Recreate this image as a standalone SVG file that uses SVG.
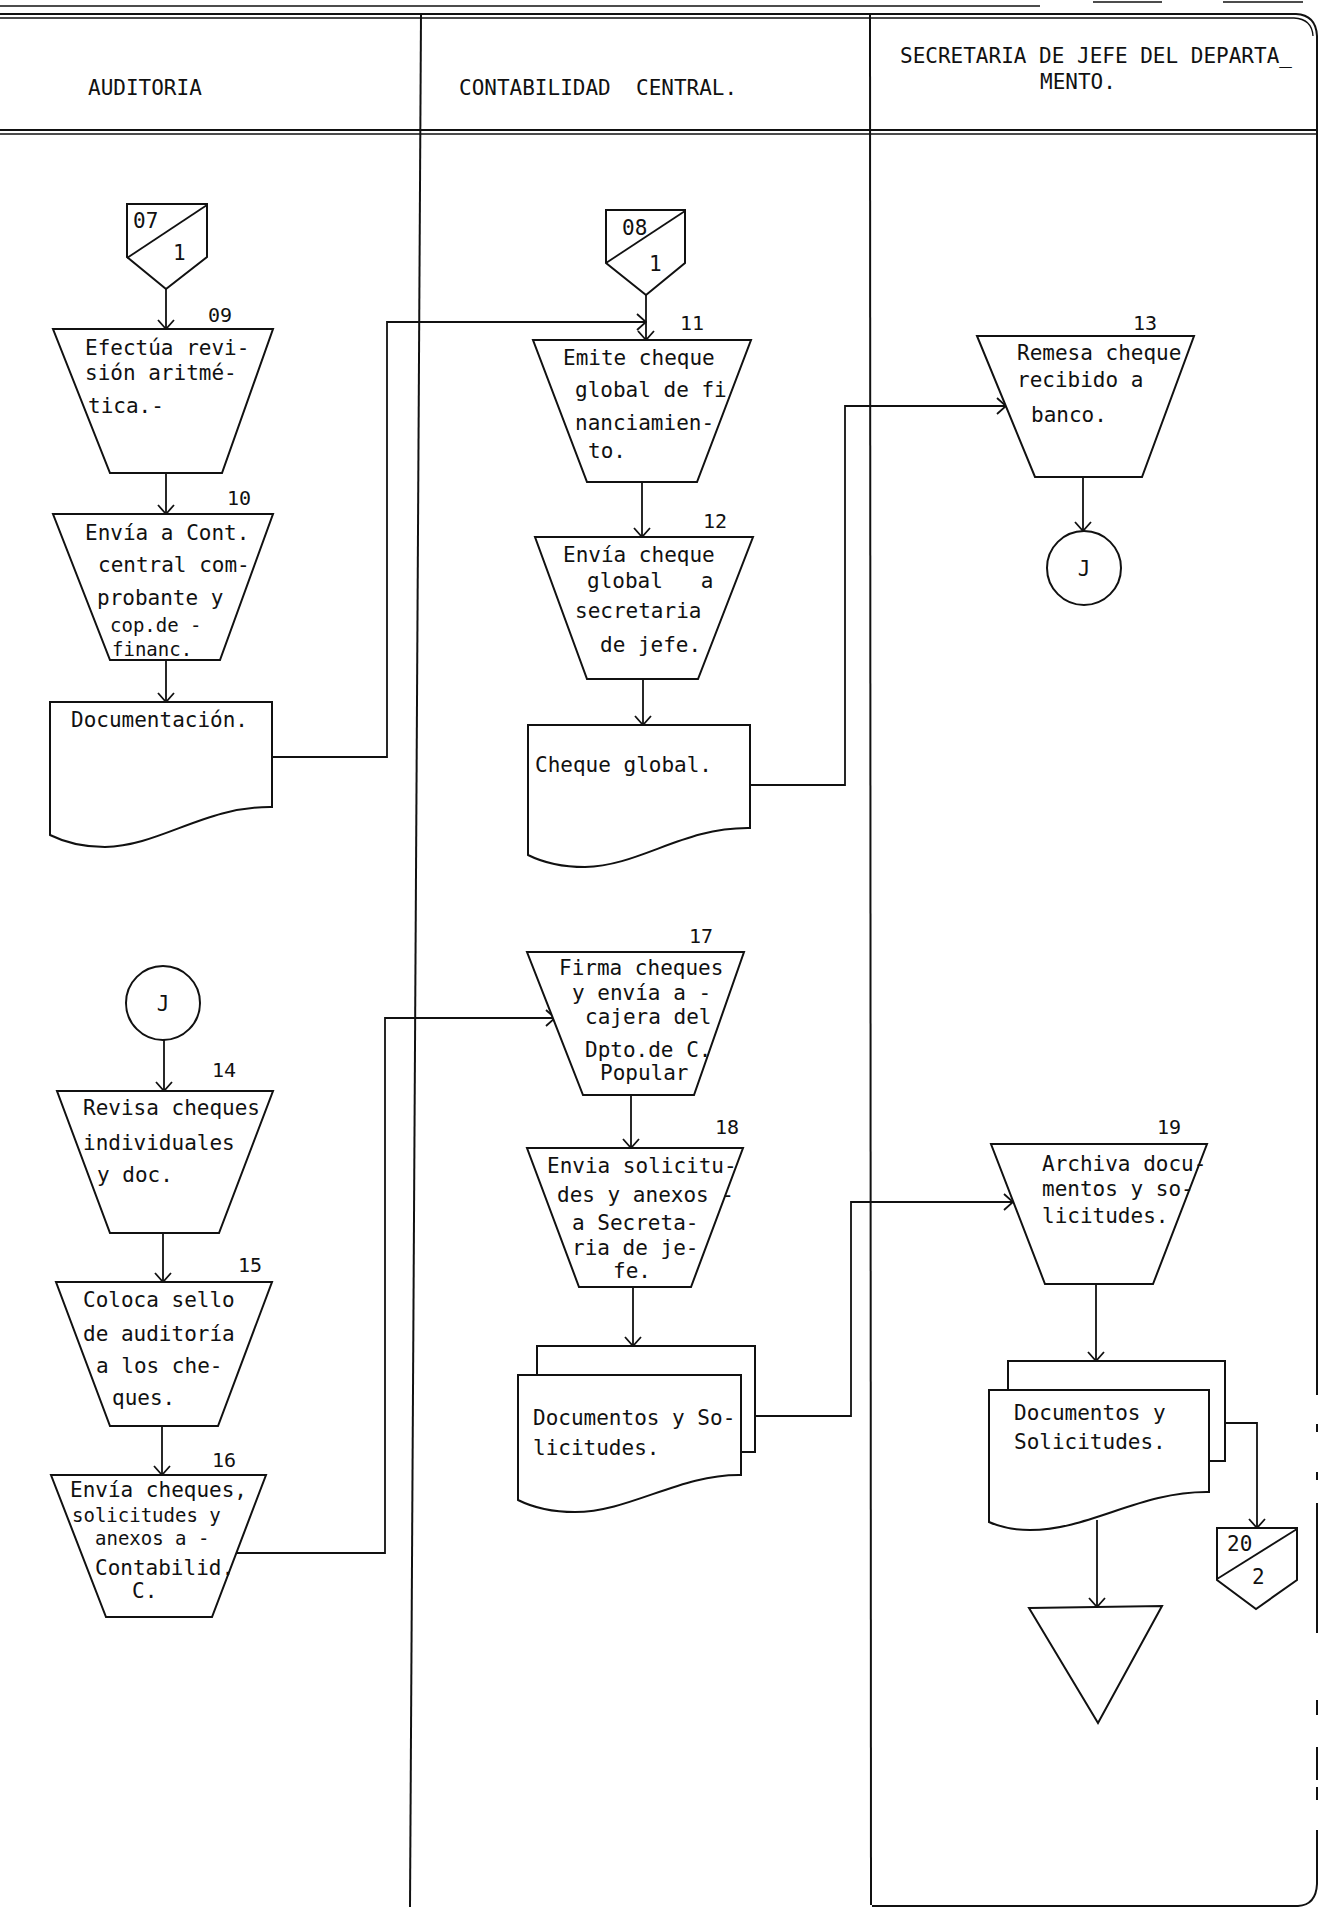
<svg xmlns="http://www.w3.org/2000/svg" width="1320" height="1909" viewBox="0 0 1320 1909">
  <defs>
    <style>
      .frame { fill: none; stroke: #111; stroke-width: 2; }
      .thin { fill: none; stroke: #111; stroke-width: 1.3; }
      .shape { fill: #fff; stroke: #111; stroke-width: 2; stroke-linejoin: miter; }
      .line { fill: none; stroke: #111; stroke-width: 1.8; }
      .flow { fill: none; stroke: #111; stroke-width: 1.8; marker-end: url(#open); }
      text { font-family: "DejaVu Sans Mono", "Liberation Mono", monospace; font-size: 21px; fill: #111; white-space: pre; }
      .hdr { font-size: 21px; }
      .num { font-size: 20px; }
      .tight { font-size: 19px; }
    </style>
    <marker id="open" viewBox="-1 -10 11 20" refX="9" refY="0" markerUnits="userSpaceOnUse" markerWidth="11" markerHeight="20" orient="auto">
      <path d="M0,-8 L9,0 L0,8" fill="none" stroke="#111" stroke-width="1.8"/>
    </marker>
  </defs>

  <rect x="0" y="0" width="1320" height="1909" fill="#fff"/>

  <!-- page frame and swimlane header -->
  <g id="frame">
    <line class="thin" x1="0" y1="6" x2="1040" y2="6"/>
    <line class="thin" x1="1093" y1="2" x2="1162" y2="2"/>
    <line class="thin" x1="1223" y1="2" x2="1303" y2="2"/>
    <path class="frame" d="M0,14 H1296 Q1316,15 1317,36"/>
    <path class="thin" d="M0,18 H1294 Q1312,19 1313,36"/>
    <line class="frame" x1="0" y1="130" x2="1317" y2="130"/>
    <line class="thin" x1="0" y1="134" x2="1317" y2="134"/>
    <line class="frame" x1="421" y1="14" x2="410" y2="1907"/>
    <line class="frame" x1="870" y1="14" x2="871" y2="1905"/>
    <path class="frame" d="M1317,36 V1395 M1317,1424 V1432 M1317,1472 V1480 M1317,1503 V1633 M1317,1700 V1715 M1317,1747 V1780 M1317,1787 V1800 M1317,1830 V1884 Q1316,1905 1298,1906 H872"/>
    <text class="hdr" x="88" y="95">AUDITORIA</text>
    <text class="hdr" x="459" y="95" xml:space="preserve">CONTABILIDAD  CENTRAL.</text>
    <text class="hdr" x="900" y="63">SECRETARIA DE JEFE DEL DEPARTA_</text>
    <text class="hdr" x="1040" y="89">MENTO.</text>
  </g>

  <!-- connectors -->
  <g id="connectors">
    <line class="flow" x1="166" y1="289" x2="166" y2="329"/>
    <line class="flow" x1="166" y1="473" x2="166" y2="514"/>
    <line class="flow" x1="166" y1="660" x2="166" y2="702"/>
    <polyline class="flow" points="272,757 387,757 387,322 646,322"/>
    <line class="flow" x1="646" y1="295" x2="646" y2="340"/>
    <line class="flow" x1="642" y1="482" x2="642" y2="537"/>
    <line class="flow" x1="643" y1="679" x2="643" y2="725"/>
    <polyline class="flow" points="750,785 845,785 845,406 1006,406"/>
    <line class="flow" x1="1083" y1="477" x2="1083" y2="531"/>
    <line class="flow" x1="164" y1="1040" x2="164" y2="1091"/>
    <line class="flow" x1="163" y1="1233" x2="163" y2="1282"/>
    <line class="flow" x1="162" y1="1426" x2="162" y2="1475"/>
    <polyline class="flow" points="236,1553 385,1553 385,1018 555,1018"/>
    <line class="flow" x1="631" y1="1095" x2="631" y2="1148"/>
    <line class="flow" x1="633" y1="1287" x2="633" y2="1346"/>
    <polyline class="flow" points="755,1416 851,1416 851,1202 1013,1202"/>
    <line class="flow" x1="1096" y1="1284" x2="1096" y2="1361"/>
    <polyline class="flow" points="1225,1423 1257,1423 1257,1528"/>
    <line class="flow" x1="1097" y1="1520" x2="1097" y2="1607"/>
  </g>

  <!-- AUDITORIA lane -->
  <g id="offpage-07">
    <polygon class="shape" points="127,204 207,204 207,257 166,289 127,257"/>
    <line class="line" x1="127" y1="258" x2="207" y2="205"/>
    <text x="133" y="228">07</text>
    <text x="173" y="260">1</text>
  </g>

  <g id="op-09">
    <text class="num" x="208" y="322">09</text>
    <polygon class="shape" points="53,329 273,329 222,473 110,473"/>
    <text x="85" y="355">Efectúa revi-</text>
    <text x="85" y="380">sión aritmé-</text>
    <text x="88" y="413">tica.-</text>
  </g>

  <g id="op-10">
    <text class="num" x="227" y="505">10</text>
    <polygon class="shape" points="53,514 273,514 220,660 110,660"/>
    <text x="85" y="540">Envía a Cont.</text>
    <text x="98" y="572">central com-</text>
    <text x="97" y="605">probante y</text>
    <text class="tight" x="110" y="632">cop.de -</text>
    <text class="tight" x="112" y="656">financ.</text>
  </g>

  <g id="doc-documentacion">
    <path class="shape" d="M50,702 H272 V807 C205,806 160,846 105,847 C80,847 62,841 50,835 Z"/>
    <text x="71" y="727">Documentación.</text>
  </g>

  <g id="connector-j-in">
    <circle class="shape" cx="163" cy="1003" r="37"/>
    <text x="163" y="1011" text-anchor="middle">J</text>
  </g>

  <g id="op-14">
    <text class="num" x="212" y="1077">14</text>
    <polygon class="shape" points="57,1091 273,1091 219,1233 110,1233"/>
    <text x="83" y="1115">Revisa cheques</text>
    <text x="83" y="1150">individuales</text>
    <text x="97" y="1182">y doc.</text>
  </g>

  <g id="op-15">
    <text class="num" x="238" y="1272">15</text>
    <polygon class="shape" points="56,1282 272,1282 218,1426 110,1426"/>
    <text x="83" y="1307">Coloca sello</text>
    <text x="83" y="1341">de auditoría</text>
    <text x="96" y="1373">a los che-</text>
    <text x="112" y="1405">ques.</text>
  </g>

  <g id="op-16">
    <text class="num" x="212" y="1467">16</text>
    <polygon class="shape" points="51,1475 266,1475 212,1617 106,1617"/>
    <text x="70" y="1497">Envía cheques,</text>
    <text class="tight" x="72" y="1522">solicitudes y</text>
    <text class="tight" x="95" y="1545">anexos a -</text>
    <text x="95" y="1575">Contabilid.</text>
    <text x="132" y="1598">C.</text>
  </g>

  <!-- CONTABILIDAD CENTRAL lane -->
  <g id="offpage-08">
    <polygon class="shape" points="606,210 685,210 685,263 646,295 606,263"/>
    <line class="line" x1="606" y1="263" x2="685" y2="211"/>
    <text x="622" y="235">08</text>
    <text x="649" y="271">1</text>
  </g>

  <g id="op-11">
    <text class="num" x="680" y="330">11</text>
    <polygon class="shape" points="533,340 751,340 697,482 587,482"/>
    <text x="563" y="365">Emite cheque</text>
    <text x="575" y="397">global de fi</text>
    <text x="575" y="430">nanciamien-</text>
    <text x="588" y="458">to.</text>
  </g>

  <g id="op-12">
    <text class="num" x="703" y="528">12</text>
    <polygon class="shape" points="535,537 753,537 698,679 587,679"/>
    <text x="563" y="562">Envía cheque</text>
    <text x="587" y="588" xml:space="preserve">global   a</text>
    <text x="575" y="618">secretaria</text>
    <text x="600" y="652">de jefe.</text>
  </g>

  <g id="doc-cheque-global">
    <path class="shape" d="M528,725 H750 V828 C683,827 640,866 585,867 C560,867 540,861 528,855 Z"/>
    <text x="535" y="772">Cheque global.</text>
  </g>

  <g id="op-17">
    <text class="num" x="689" y="943">17</text>
    <polygon class="shape" points="527,952 744,952 694,1095 583,1095"/>
    <text x="559" y="975">Firma cheques</text>
    <text x="572" y="1000">y envía a -</text>
    <text x="585" y="1024">cajera del</text>
    <text x="585" y="1057">Dpto.de C.</text>
    <text x="600" y="1080">Popular</text>
  </g>

  <g id="op-18">
    <text class="num" x="715" y="1134">18</text>
    <polygon class="shape" points="527,1148 743,1148 691,1287 579,1287"/>
    <text x="547" y="1173">Envia solicitu-</text>
    <text x="557" y="1202">des y anexos -</text>
    <text x="572" y="1230">a Secreta-</text>
    <text x="572" y="1255">ria de je-</text>
    <text x="613" y="1278">fe.</text>
  </g>

  <g id="docs-18">
    <path class="shape" d="M537,1375 V1346 H755 V1452 H741"/>
    <path class="shape" d="M518,1375 H741 V1475 C680,1474 630,1512 575,1512 C550,1512 530,1506 518,1500 Z"/>
    <text x="533" y="1425">Documentos y So-</text>
    <text x="533" y="1455">licitudes.</text>
  </g>

  <!-- SECRETARIA lane -->
  <g id="op-13">
    <text class="num" x="1133" y="330">13</text>
    <polygon class="shape" points="977,336 1194,336 1142,477 1035,477"/>
    <text x="1017" y="360">Remesa cheque</text>
    <text x="1017" y="387">recibido a</text>
    <text x="1031" y="422">banco.</text>
  </g>

  <g id="connector-j-out">
    <circle class="shape" cx="1084" cy="568" r="37"/>
    <text x="1084" y="576" text-anchor="middle">J</text>
  </g>

  <g id="op-19">
    <text class="num" x="1157" y="1134">19</text>
    <polygon class="shape" points="991,1144 1207,1144 1153,1284 1045,1284"/>
    <text x="1042" y="1171">Archiva docu-</text>
    <text x="1042" y="1196">mentos y so-</text>
    <text x="1042" y="1223">licitudes.</text>
  </g>

  <g id="docs-19">
    <path class="shape" d="M1008,1390 V1361 H1225 V1461 H1209"/>
    <path class="shape" d="M989,1390 H1209 V1492 C1140,1491 1090,1530 1030,1530 C1010,1530 998,1526 989,1522 Z"/>
    <text x="1014" y="1420">Documentos y</text>
    <text x="1014" y="1449">Solicitudes.</text>
  </g>

  <g id="offpage-20">
    <polygon class="shape" points="1217,1528 1297,1528 1297,1580 1256,1609 1217,1580"/>
    <line class="line" x1="1217" y1="1579" x2="1297" y2="1529"/>
    <text x="1227" y="1551">20</text>
    <text x="1252" y="1584">2</text>
  </g>

  <g id="archive">
    <polygon class="shape" points="1029,1608 1162,1606 1098,1723"/>
  </g>
</svg>
